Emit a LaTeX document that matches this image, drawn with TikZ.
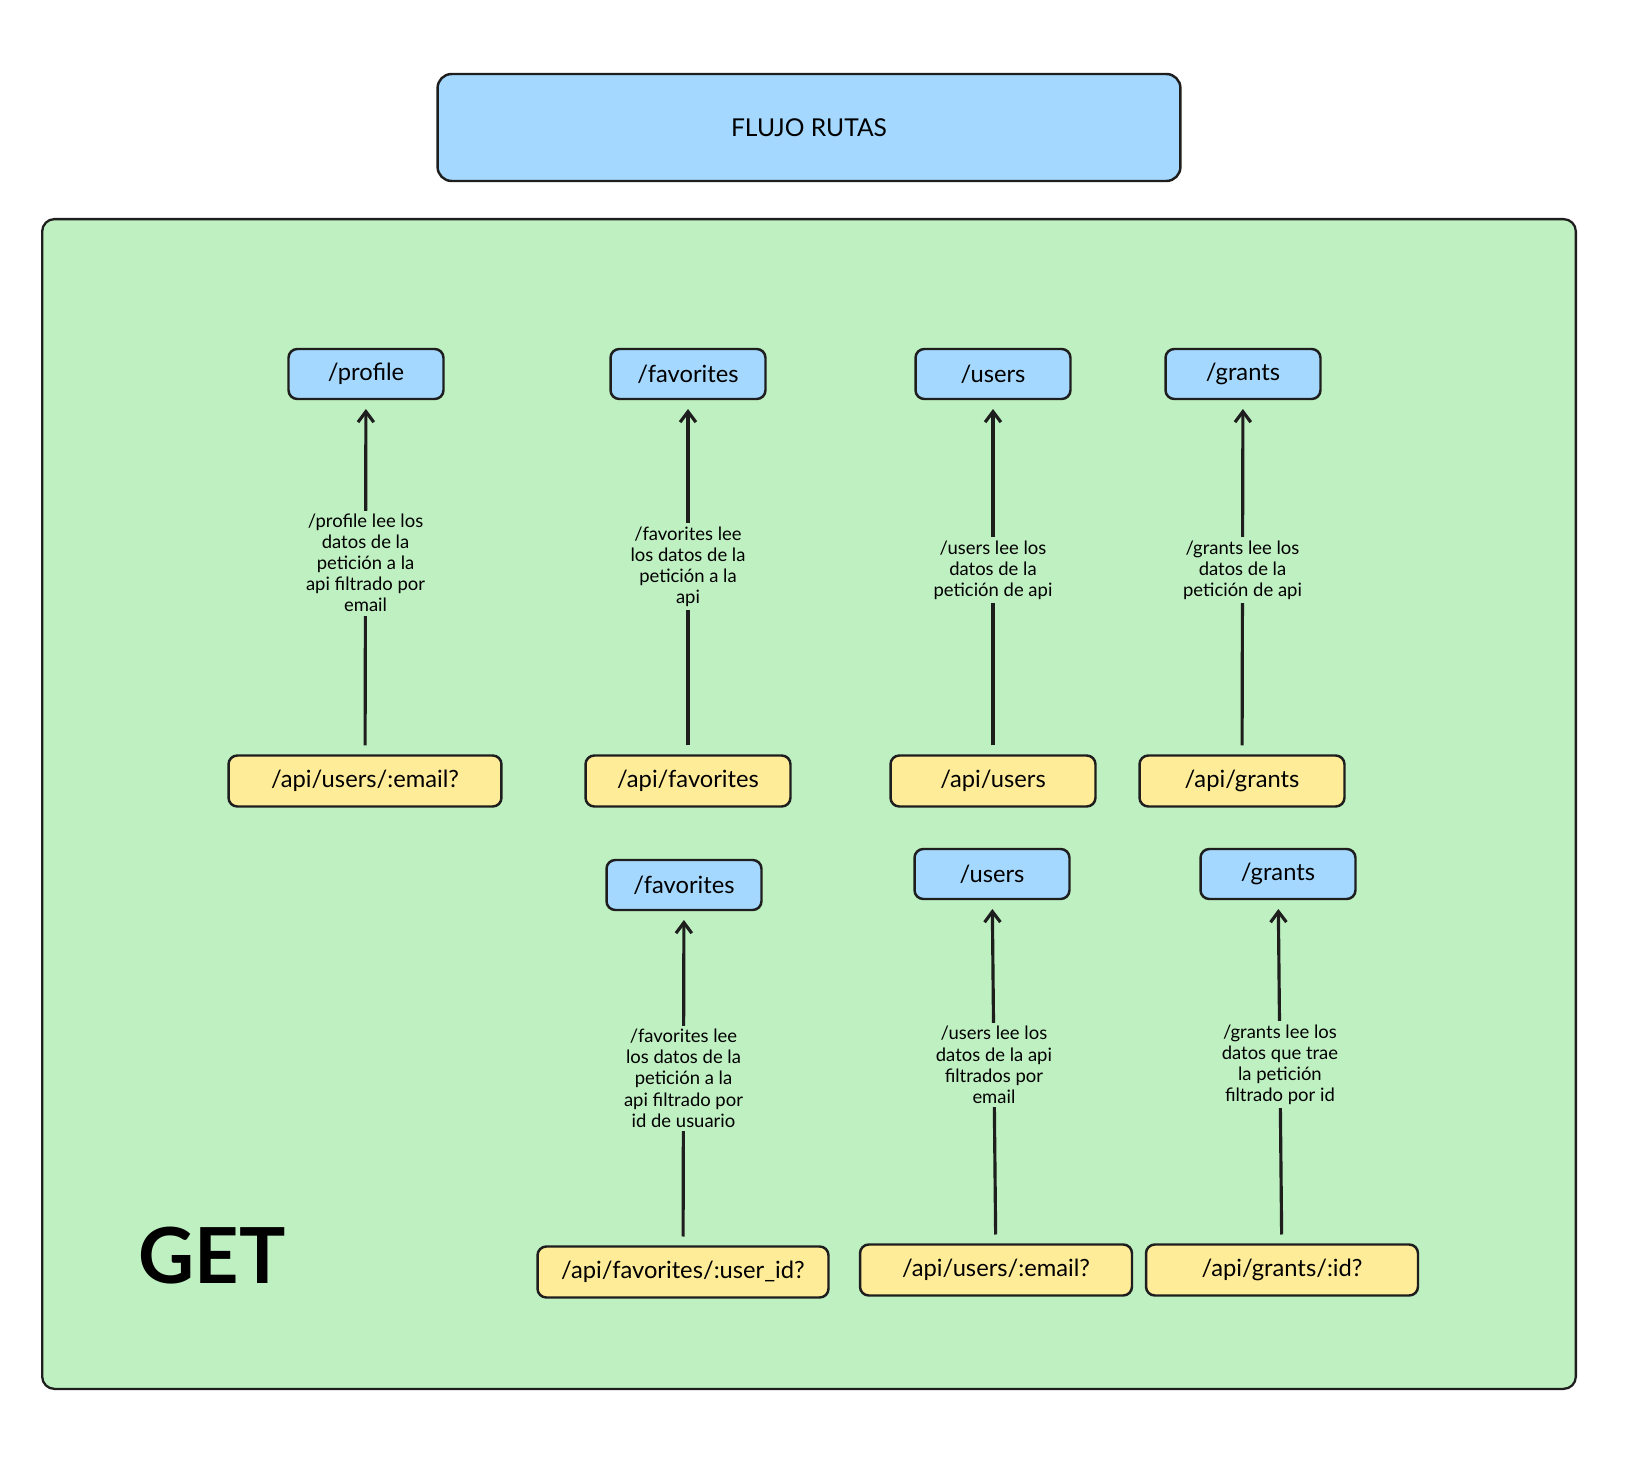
\documentclass[tikz,border=0pt]{standalone}
\usepackage{fontspec}
\setmainfont{Lato}
\usetikzlibrary{arrows.meta,positioning}
\definecolor{routeblue}{HTML}{A5D8FF}
\definecolor{apiyellow}{HTML}{FFEC99}
\definecolor{getgreen}{HTML}{BFF0C1}
\definecolor{ink}{HTML}{1E1E1E}
\tikzset{%
	frame/.style  = {draw=ink, fill=getgreen, rounded corners=7pt, line width=1.3pt, minimum width=30.68cm, minimum height=23.4cm},
	titlebox/.style = {draw=ink, fill=routeblue, rounded corners=8pt, line width=1.4pt, minimum width=14.86cm, minimum height=2.14cm, font=\fontsize{14}{16}\selectfont},
	route/.style  = {draw=ink, fill=routeblue, rounded corners=5pt, line width=1.4pt, minimum width=3.1cm, minimum height=1cm, font=\fontsize{13.5}{15}\selectfont}, % endpoint
	api/.style    = {draw=ink, fill=apiyellow, rounded corners=5pt, line width=1.4pt, minimum width=4.1cm, minimum height=1.02cm, font=\fontsize{13.5}{15}\selectfont}, % api call
	note/.style   = {fill=getgreen, align=center, inner sep=2pt, font=\fontsize{10.5}{12}\selectfont},
	flow/.style   = {draw=ink, line width=1.8pt, -{Straight Barb[length=6pt,width=9pt]}, shorten <=5pt, shorten >=5pt},
}

\begin{document}
\begin{tikzpicture}[x=0.02cm,y=-0.02cm]
	\useasboundingbox (0,0) rectangle (1650,1466);
	\node [titlebox] (title) at (809,127.5) {FLUJO RUTAS};
	\node [frame] (get) at (809,804) {};
	\node [font=\fontsize{44}{48}\selectfont\bfseries] (method) at (212,1256) {GET};
	
	% first row
	\node [route] (profile) at (366,374) {/profile};
	\node [route] (favtop) at (688,374) {/favorites};
	\node [route] (userstop) at (993,374) {/users};
	\node [route] (grantstop) at (1243,374) {/grants};
	\node [api,minimum width=5.46cm] (apiemail) at (365,781) {/api/users/:email?};
	\node [api] (apifav) at (688,781) {/api/favorites};
	\node [api] (apiusers) at (993,781) {/api/users};
	\node [api] (apigrants) at (1242,781) {/api/grants};
	
	% second row
	\node [route] (favbot) at (684,885) {/favorites};
	\node [route] (usersbot) at (992,874) {/users};
	\node [route] (grantsbot) at (1278,874) {/grants};
	\node [api,minimum width=5.82cm] (apifavid) at (683,1272) {/api/favorites/:user\_id?};
	\node [api,minimum width=5.44cm] (apiuseremail) at (996,1270) {/api/users/:email?};
	\node [api,minimum width=5.44cm] (apigrantid) at (1282,1270) {/api/grants/:id?};
	
	\draw[flow] (apiemail) -- node[note,pos=0.54] {/profile lee los\\datos de la\\petición a la\\api filtrado por\\email} (profile);
	\draw[flow] (apifav) -- node[note,pos=0.53] {/favorites lee\\los datos de la\\petición a la\\api} (favtop);
	\draw[flow] (apiusers) -- node[note,pos=0.52] {/users lee los\\datos de la\\petición de api} (userstop);
	\draw[flow] (apigrants) -- node[note,pos=0.52] {/grants lee los\\datos de la\\petición de api} (grantstop);
	\draw[flow] (apifavid) -- node[note,pos=0.5] {/favorites lee\\los datos de la\\petición a la\\api filtrado por\\id de usuario} (favbot);
	\draw[flow] (apiuseremail) -- node[note,pos=0.52] {/users lee los\\datos de la api\\filtrados por\\email} (usersbot);
	\draw[flow] (apigrantid) -- node[note,pos=0.52] {/grants lee los\\datos que trae\\la petición\\filtrado por id} (grantsbot);
\end{tikzpicture}
\end{document}
